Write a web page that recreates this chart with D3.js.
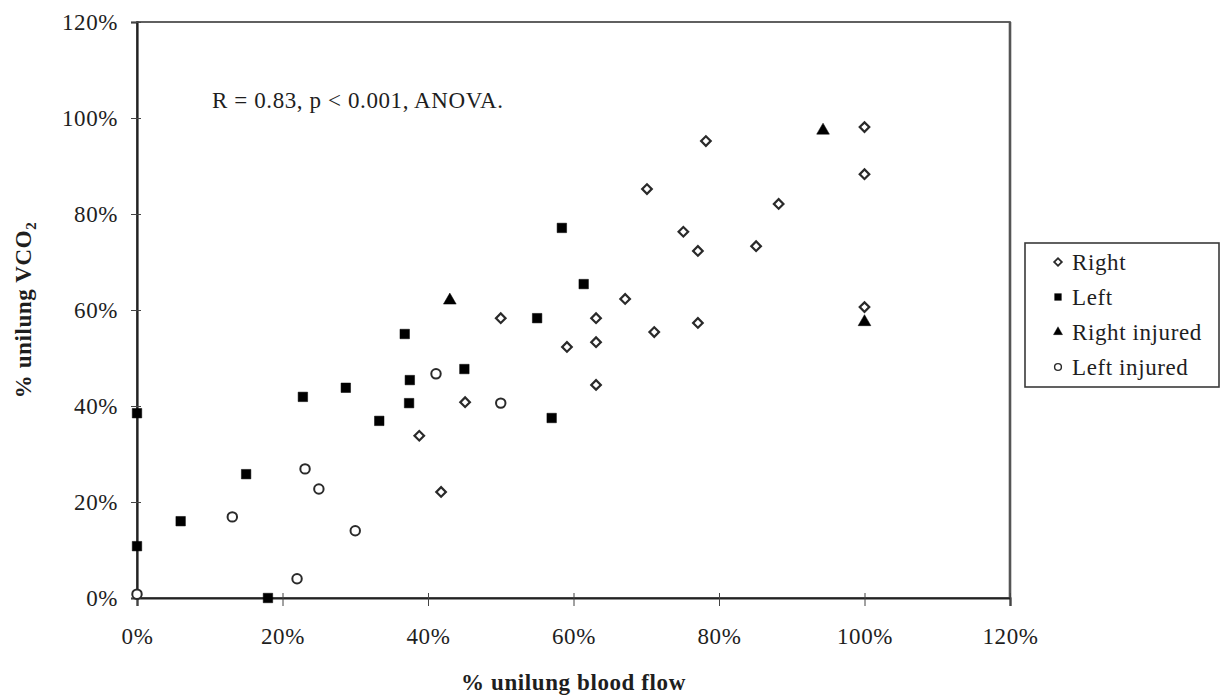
<!DOCTYPE html>
<html>
<head>
<meta charset="utf-8">
<script src="https://cdn.jsdelivr.net/npm/d3@7"></script>
<style>
  html, body { margin: 0; padding: 0; background: #fff; }
  svg { display: block; }
  text { font-family: "Liberation Serif", "Times New Roman", serif; fill: #1e1e1e; }
</style>
</head>
<body>
<svg id="chart" width="1222" height="699"></svg>
<script>
// ---- data (percent values) ----
const xTicks = [0, 20, 40, 60, 80, 100, 120];
const yTicks = [0, 20, 40, 60, 80, 100, 120];
const seriesNames = ["Right", "Left", "Right injured", "Left injured"];

const rightPts = [
  [41.8, 22.1], [38.8, 33.8], [45.1, 40.8], [50.0, 58.3], [59.1, 52.3],
  [63.1, 58.3], [63.1, 53.3], [63.1, 44.4], [67.1, 62.3], [70.1, 85.2],
  [71.1, 55.4], [75.1, 76.3], [77.1, 72.3], [77.1, 57.3], [78.2, 95.2],
  [85.1, 73.3], [88.2, 82.1], [100, 98.1], [100, 88.3], [100, 60.6]
];
const leftPts = [
  [0, 38.5], [0, 10.8], [6.0, 16.0], [15.0, 25.8], [18.0, 0],
  [22.8, 41.9], [28.7, 43.8], [33.3, 36.9], [36.8, 55.0], [37.5, 45.4],
  [37.4, 40.6], [45.0, 47.7], [55.0, 58.3], [57.0, 37.5], [58.4, 77.1],
  [61.4, 65.4]
];
const rightInjPts = [
  [43.0, 62.0], [94.3, 97.4], [100, 57.5]
];
const leftInjPts = [
  [0, 0.8], [22.0, 4.0], [13.1, 16.9], [23.1, 26.9], [25.0, 22.7],
  [30.0, 14.0], [41.1, 46.7], [50.0, 40.6]
];
const annotation = "R = 0.83, p < 0.001, ANOVA.";

// ---- drawing ----
const svg = d3.select("#chart");
const x = d3.scaleLinear().domain([0, 120]).range([137, 1010]);
const y = d3.scaleLinear().domain([0, 120]).range([598, 22]);
const fs = 23;

// frame
svg.append("rect")
  .attr("x", x(0)).attr("y", y(120))
  .attr("width", x(120) - x(0)).attr("height", y(0) - y(120))
  .attr("fill", "none").attr("stroke", "#3a3a3a").attr("stroke-width", 1.6);
svg.append("line").attr("x1", x(120)).attr("x2", x(120)).attr("y1", y(120)).attr("y2", y(0))
  .attr("stroke", "#555").attr("stroke-width", 2.6);

// x axis
const gx = svg.append("g").attr("transform", `translate(0,${y(0)})`)
  .call(d3.axisBottom(x).tickValues(xTicks).tickFormat(d => d + "%").tickSize(8));
gx.select(".domain").attr("stroke", "#222").attr("stroke-width", 2.2);
gx.selectAll(".tick line").attr("y1", -5).attr("y2", 8).attr("stroke", "#444").attr("stroke-width", 1);
gx.selectAll(".tick text").attr("y", 46).attr("dy", 0)
  .style("font-size", fs + "px").style("letter-spacing", "0.6px")
  .attr("font-family", null).attr("fill", "#2a2a2a");

// y axis
const gy = svg.append("g").attr("transform", `translate(${x(0)},0)`)
  .call(d3.axisLeft(y).tickValues(yTicks).tickFormat(d => d + "%").tickSize(6));
gy.select(".domain").attr("stroke", "#222").attr("stroke-width", 2.2);
gy.selectAll(".tick line").attr("x1", -6).attr("x2", 4).attr("stroke", "#444").attr("stroke-width", 1);
gy.selectAll(".tick text").attr("x", -19).attr("dy", "0.33em")
  .style("font-size", fs + "px").style("letter-spacing", "0.6px")
  .attr("font-family", null).attr("fill", "#2a2a2a");

// symbols
const diamondPath = d3.symbol(d3.symbolSquare, 46)();
const squarePath = d3.symbol(d3.symbolSquare, 90)();
const trianglePath = d3.symbol(d3.symbolTriangle, 70)();
const circlePath = d3.symbol(d3.symbolCircle, 70)();

const styles = {
  "Right": { path: diamondPath, rot: 45, fill: "#fff", stroke: "#2a2a2a", sw: 2.2 },
  "Left": { path: squarePath, rot: 0, fill: "#000", stroke: "#000", sw: 0.5 },
  "Right injured": { path: trianglePath, rot: 0, fill: "#000", stroke: "#000", sw: 0.5 },
  "Left injured": { path: circlePath, rot: 0, fill: "#fff", stroke: "#2a2a2a", sw: 2 }
};
const seriesData = {
  "Right": rightPts, "Left": leftPts,
  "Right injured": rightInjPts, "Left injured": leftInjPts
};

const order = ["Left", "Right", "Left injured", "Right injured"];
order.forEach(name => {
  const st = styles[name];
  svg.append("g").selectAll("path").data(seriesData[name]).join("path")
    .attr("d", st.path)
    .attr("transform", d => `translate(${x(d[0])},${y(d[1])}) rotate(${st.rot})`)
    .attr("fill", st.fill).attr("stroke", st.stroke).attr("stroke-width", st.sw);
});

// annotation
svg.append("text").attr("x", 212).attr("y", 108)
  .style("font-size", fs + "px").style("letter-spacing", "0.6px")
  .text(annotation);

// axis titles
svg.append("text").attr("x", (x(0) + x(120)) / 2).attr("y", 690)
  .attr("text-anchor", "middle").attr("font-weight", "bold")
  .style("font-size", fs + "px").style("letter-spacing", "0.6px")
  .text("% unilung blood flow");

const yt = svg.append("text")
  .attr("transform", `translate(31,${(y(0) + y(120)) / 2}) rotate(-90)`)
  .attr("text-anchor", "middle").attr("font-weight", "bold")
  .style("font-size", fs + "px").style("letter-spacing", "0.6px");
yt.append("tspan").text("% unilung VCO");
yt.append("tspan").attr("dy", 5).style("font-size", "15px").text("2");

// legend
const lg = svg.append("g");
lg.append("rect").attr("x", 1025).attr("y", 243).attr("width", 194).attr("height", 144)
  .attr("fill", "#fff").attr("stroke", "#3a3a3a").attr("stroke-width", 1.6);
const legendY = d3.scalePoint().domain(seriesNames).range([262, 367]);
seriesNames.forEach(name => {
  const st = styles[name];
  const scale = name === "Right" ? 0.8 : 0.72;
  lg.append("path").attr("d", st.path)
    .attr("transform", `translate(1058,${legendY(name)}) rotate(${st.rot}) scale(${scale})`)
    .attr("fill", st.fill).attr("stroke", st.stroke).attr("stroke-width", st.sw);
  lg.append("text").attr("x", 1072).attr("y", legendY(name) + 8)
    .style("font-size", fs + "px").style("letter-spacing", "0.6px")
    .text(name);
});
</script>
</body>
</html>
